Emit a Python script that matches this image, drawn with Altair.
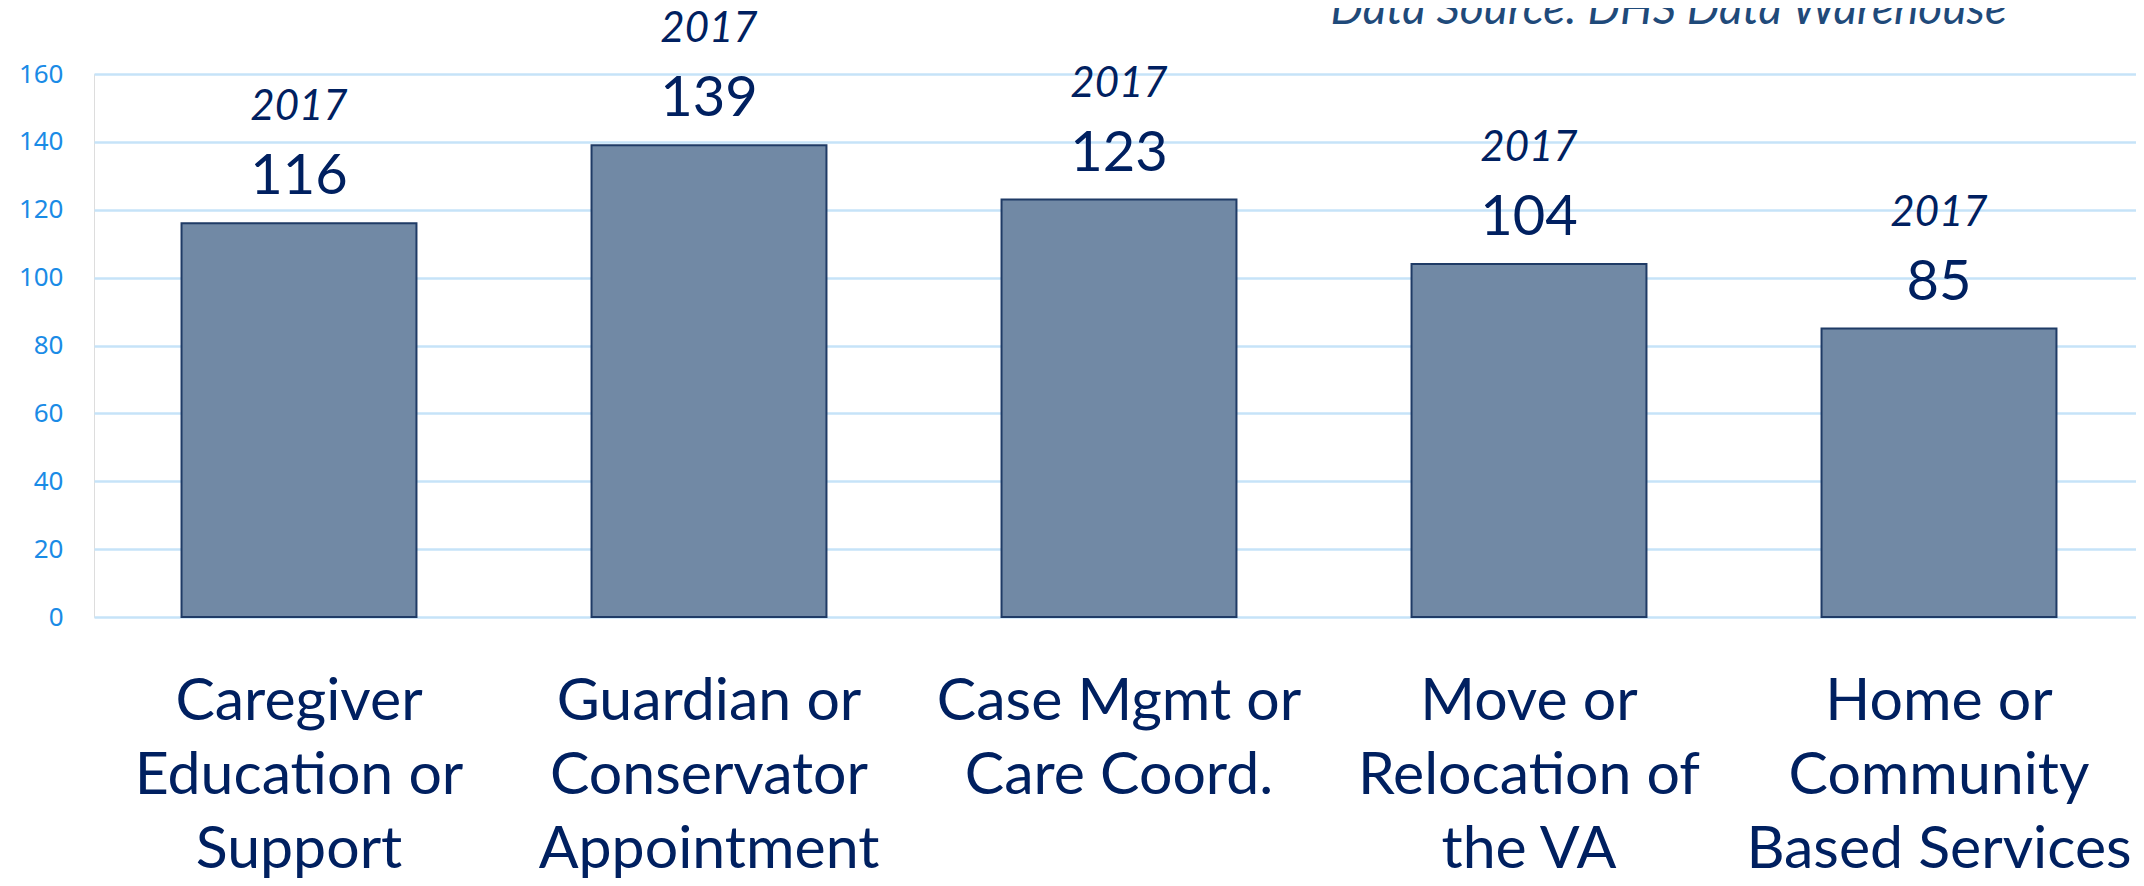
import altair as alt
import pandas as pd

categories = [
    "Caregiver\nEducation or\nSupport",
    "Guardian or\nConservator\nAppointment",
    "Case Mgmt or\nCare Coord.",
    "Move or\nRelocation of\nthe VA",
    "Home or\nCommunity\nBased Services",
]
values = [116, 139, 123, 104, 85]
years = ["2017", "2017", "2017", "2017", "2017"]
y_ticks = [0, 20, 40, 60, 80, 100, 120, 140, 160]
source_note = ["Data Source: DHS Data Warehouse"]

df = pd.DataFrame({"cat": categories, "value": values, "year": years})

NAVY = "#002060"
FONT = "Lato"

x = alt.X(
    "cat:N",
    sort=categories,
    title=None,
    scale=alt.Scale(paddingInner=0.427, paddingOuter=0.2135),
    axis=alt.Axis(
        labelExpr="split(datum.label, '\\n')",
        labelFont=FONT,
        labelFontSize=59,
        labelColor=NAVY,
        labelLineHeight=74,
        labelAngle=0,
        labelPadding=55,
        labelBaseline="top",
        labelLimit=0,
        labelOverlap=False,
        ticks=False,
        domain=False,
        grid=False,
    ),
)
y = alt.Y(
    "value:Q",
    title=None,
    scale=alt.Scale(domain=[0, 160], nice=False),
    axis=alt.Axis(
        values=y_ticks,
        labelFont="Noto Sans",
        labelFontSize=26,
        labelColor="#1a8be6",
        labelPadding=31,
        ticks=False,
        domain=False,
        grid=True,
        gridColor="#c6e3f8",
        gridWidth=2.5,
    ),
)

base = alt.Chart(df)

bars = base.mark_bar(
    fill="#7189a5", stroke="#1f3b66", strokeWidth=2
).encode(x=x, y=y)

num_labels = base.mark_text(
    font=FONT, fontSize=56, color=NAVY, baseline="alphabetic", dy=-29
).encode(x=alt.X("cat:N", sort=categories), y="value:Q", text="value:Q")

year_labels = base.mark_text(
    font=FONT, fontSize=42, fontStyle="italic", color=NAVY,
    baseline="alphabetic", dy=-103
).encode(x=alt.X("cat:N", sort=categories), y="value:Q", text="year:N")

note = alt.Chart(pd.DataFrame({"t": source_note})).mark_text(
    font=FONT, fontSize=46, fontStyle="italic", color="#1f4a7a",
    align="right", baseline="alphabetic"
).encode(x=alt.value(1913), y=alt.value(-50), text="t:N")

chart = (
    alt.layer(bars, num_labels, year_labels, note)
    .properties(
        width=2050,
        height=543,
        autosize=alt.AutoSizeParams(type="none"),
        padding={"left": 86, "top": 66, "right": -8, "bottom": 261},
    )
    .configure_view(stroke=None)
    .configure(background="white")
)

chart.save("out.html", embed_options={"renderer": "svg", "actions": False})
